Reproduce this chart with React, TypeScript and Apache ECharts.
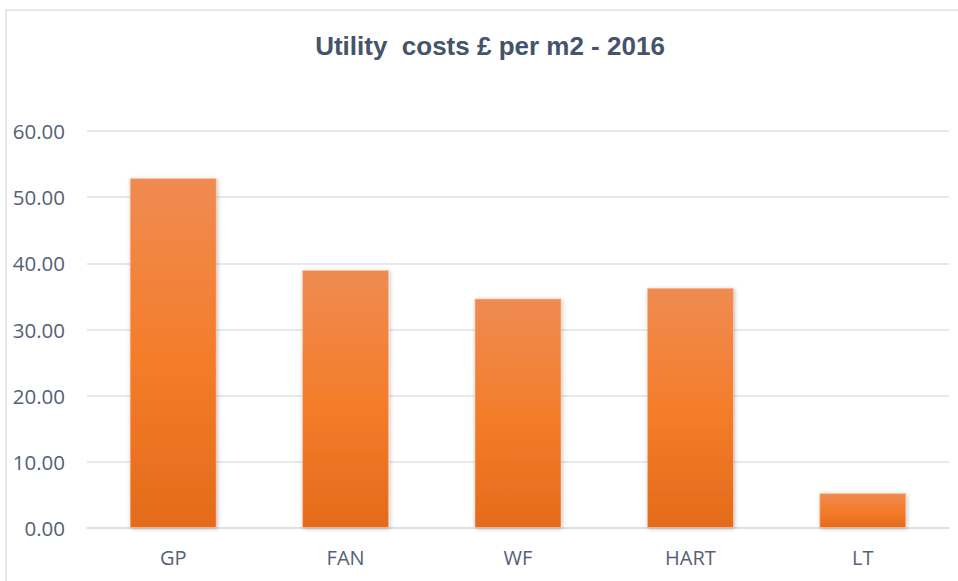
import React, { useEffect, useRef } from "react";
import * as echarts from "echarts";

const categories = ["GP", "FAN", "WF", "HART", "LT"];
const values = [52.9, 39.0, 34.7, 36.3, 5.3];
const yTicks = { min: 0, max: 60, interval: 10 };
const titleText = "Utility  costs £ per m2 - 2016";

export default function App() {
  const ref = useRef<HTMLDivElement>(null);
  useEffect(() => {
    if (!ref.current) return;
    const chart = echarts.init(ref.current, undefined, { renderer: "svg" });
    chart.setOption({
      animation: false,
      backgroundColor: "#ffffff",
      title: {
        text: titleText,
        left: 485,
        top: 28,
        textAlign: "center",
        textStyle: {
          fontFamily: "Liberation Sans, Arial, sans-serif",
          fontWeight: "bold",
          fontSize: 26,
          color: "#44546a",
        },
      },
      graphic: [
        {
          type: "rect",
          shape: { x: 6, y: 10, width: 1200, height: 1000 },
          style: { fill: "none", stroke: "#e4e7ee", lineWidth: 2 },
          silent: true,
        },
      ],
      grid: { left: 87, right: 9, top: 131, bottom: 53, containLabel: false },
      xAxis: {
        type: "category",
        data: categories,
        axisLine: { show: true, lineStyle: { color: "#d9dde5", width: 1.5 } },
        axisTick: { show: false },
        axisLabel: {
          margin: 19,
          fontFamily: "Open Sans, sans-serif",
          fontSize: 20,
          color: "#556175",
        },
      },
      yAxis: {
        type: "value",
        min: yTicks.min,
        max: yTicks.max,
        interval: yTicks.interval,
        axisLine: { show: false },
        axisTick: { show: false },
        splitLine: { lineStyle: { color: "#dde1e8", width: 1.5 } },
        axisLabel: {
          margin: 22,
          fontFamily: "Open Sans, sans-serif",
          fontSize: 20.5,
          color: "#556175",
          formatter: (v: number) => v.toFixed(2),
        },
      },
      series: [
        {
          type: "bar",
          data: values,
          barCategoryGap: "49.5%",
          itemStyle: {
            color: new echarts.graphic.LinearGradient(0, 0, 0, 1, [
              { offset: 0, color: "#ef8b52" },
              { offset: 0.5, color: "#f47d2b" },
              { offset: 1, color: "#e46b1b" },
            ]),
            borderColor: "rgba(255,200,170,0.6)",
            borderWidth: 1,
            shadowBlur: 4,
            shadowColor: "rgba(0,0,0,0.25)",
            shadowOffsetX: 1,
            shadowOffsetY: 1,
          },
        },
      ],
    });
    return () => chart.dispose();
  }, []);
  return (
    <div
      ref={ref}
      style={{ position: "fixed", left: 0, top: 0, width: 958, height: 581 }}
    />
  );
}
